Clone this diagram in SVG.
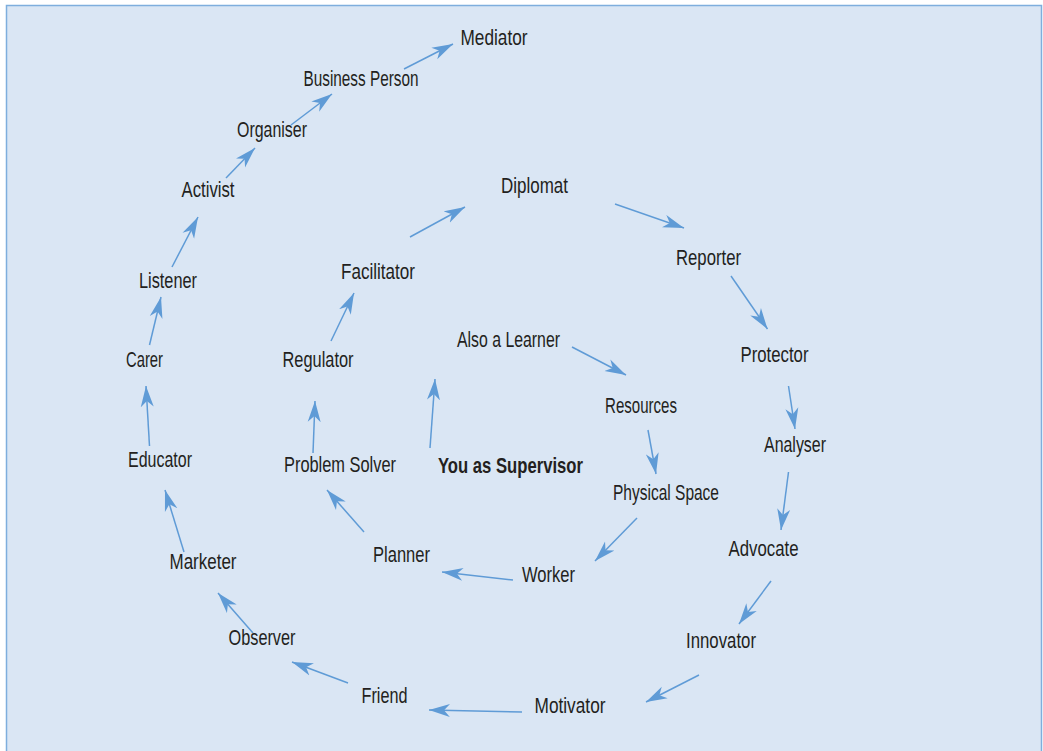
<svg xmlns="http://www.w3.org/2000/svg" width="1043" height="751" viewBox="0 0 1043 751">
<style>
.t{font-family:"Liberation Sans",Arial,sans-serif;font-size:22px;fill:#231f20;text-anchor:middle}
.b{font-weight:bold}
.c line{stroke:#5f9bd6;stroke-width:1.5;marker-end:url(#ah)}
</style>
<defs>
<marker id="ah" markerUnits="userSpaceOnUse" markerWidth="22" markerHeight="14" refX="21" refY="7" orient="auto" viewBox="0 0 22 14">
<path d="M0,0.5 L21,7 L0,13.5 L6,7 Z" fill="#5f9bd6"/>
</marker>
</defs>
<rect x="6.5" y="5.5" width="1035" height="760" fill="#dae6f4" stroke="#7eaedd" stroke-width="1.5"/>
<g class="c" id="connectors">
<line x1="404" y1="69" x2="453" y2="44"/>
<line x1="291" y1="125" x2="332" y2="94"/>
<line x1="226" y1="178" x2="255" y2="148"/>
<line x1="172" y1="267" x2="198" y2="217"/>
<line x1="149.5" y1="345" x2="161" y2="297"/>
<line x1="149.5" y1="446" x2="146" y2="386"/>
<line x1="184" y1="552" x2="165" y2="490"/>
<line x1="253" y1="633" x2="218" y2="593"/>
<line x1="348" y1="683" x2="292" y2="662"/>
<line x1="522" y1="712" x2="429" y2="710"/>
<line x1="699" y1="675" x2="646" y2="702"/>
<line x1="771" y1="581" x2="739" y2="624"/>
<line x1="788.5" y1="472" x2="781" y2="530"/>
<line x1="788.5" y1="386" x2="795" y2="429"/>
<line x1="731" y1="276" x2="767.5" y2="329"/>
<line x1="615" y1="204" x2="684" y2="228"/>
<line x1="410" y1="237" x2="465" y2="207"/>
<line x1="331" y1="341" x2="354" y2="293"/>
<line x1="313" y1="453" x2="315" y2="401"/>
<line x1="364" y1="532" x2="327" y2="490"/>
<line x1="513" y1="580" x2="442" y2="572"/>
<line x1="637" y1="518" x2="595" y2="561"/>
<line x1="648" y1="430" x2="656" y2="474"/>
<line x1="572" y1="347" x2="626" y2="375"/>
<line x1="430" y1="448" x2="435" y2="379"/>
</g>
<g id="mediator"><text class="t" x="494" y="45" textLength="67" lengthAdjust="spacingAndGlyphs">Mediator</text></g>
<g id="business-person"><text class="t" x="361" y="86" textLength="115" lengthAdjust="spacingAndGlyphs">Business Person</text></g>
<g id="organiser"><text class="t" x="272" y="137" textLength="70" lengthAdjust="spacingAndGlyphs">Organiser</text></g>
<g id="activist"><text class="t" x="208" y="197" textLength="53" lengthAdjust="spacingAndGlyphs">Activist</text></g>
<g id="listener"><text class="t" x="168" y="288" textLength="58" lengthAdjust="spacingAndGlyphs">Listener</text></g>
<g id="carer"><text class="t" x="144.5" y="367" textLength="37" lengthAdjust="spacingAndGlyphs">Carer</text></g>
<g id="educator"><text class="t" x="160" y="467" textLength="64" lengthAdjust="spacingAndGlyphs">Educator</text></g>
<g id="marketer"><text class="t" x="203" y="569" textLength="67" lengthAdjust="spacingAndGlyphs">Marketer</text></g>
<g id="observer"><text class="t" x="262" y="645" textLength="67" lengthAdjust="spacingAndGlyphs">Observer</text></g>
<g id="friend"><text class="t" x="384.5" y="703" textLength="46" lengthAdjust="spacingAndGlyphs">Friend</text></g>
<g id="motivator"><text class="t" x="570" y="713" textLength="71" lengthAdjust="spacingAndGlyphs">Motivator</text></g>
<g id="innovator"><text class="t" x="721" y="648" textLength="70" lengthAdjust="spacingAndGlyphs">Innovator</text></g>
<g id="advocate"><text class="t" x="763.5" y="556" textLength="70" lengthAdjust="spacingAndGlyphs">Advocate</text></g>
<g id="analyser"><text class="t" x="795" y="452" textLength="62" lengthAdjust="spacingAndGlyphs">Analyser</text></g>
<g id="protector"><text class="t" x="774.5" y="362" textLength="68" lengthAdjust="spacingAndGlyphs">Protector</text></g>
<g id="reporter"><text class="t" x="708.5" y="265" textLength="65" lengthAdjust="spacingAndGlyphs">Reporter</text></g>
<g id="diplomat"><text class="t" x="534.5" y="193" textLength="67" lengthAdjust="spacingAndGlyphs">Diplomat</text></g>
<g id="facilitator"><text class="t" x="378" y="279" textLength="74" lengthAdjust="spacingAndGlyphs">Facilitator</text></g>
<g id="regulator"><text class="t" x="318" y="367" textLength="71" lengthAdjust="spacingAndGlyphs">Regulator</text></g>
<g id="problem-solver"><text class="t" x="340" y="472" textLength="112" lengthAdjust="spacingAndGlyphs">Problem Solver</text></g>
<g id="you-as-supervisor"><text class="t b" x="510.5" y="473" textLength="145" lengthAdjust="spacingAndGlyphs">You as Supervisor</text></g>
<g id="also-a-learner"><text class="t" x="508.5" y="347" textLength="103" lengthAdjust="spacingAndGlyphs">Also a Learner</text></g>
<g id="resources"><text class="t" x="641" y="413" textLength="72" lengthAdjust="spacingAndGlyphs">Resources</text></g>
<g id="physical-space"><text class="t" x="666" y="500" textLength="106" lengthAdjust="spacingAndGlyphs">Physical Space</text></g>
<g id="worker"><text class="t" x="548.5" y="582" textLength="53" lengthAdjust="spacingAndGlyphs">Worker</text></g>
<g id="planner"><text class="t" x="401.5" y="562" textLength="57" lengthAdjust="spacingAndGlyphs">Planner</text></g>
</svg>
